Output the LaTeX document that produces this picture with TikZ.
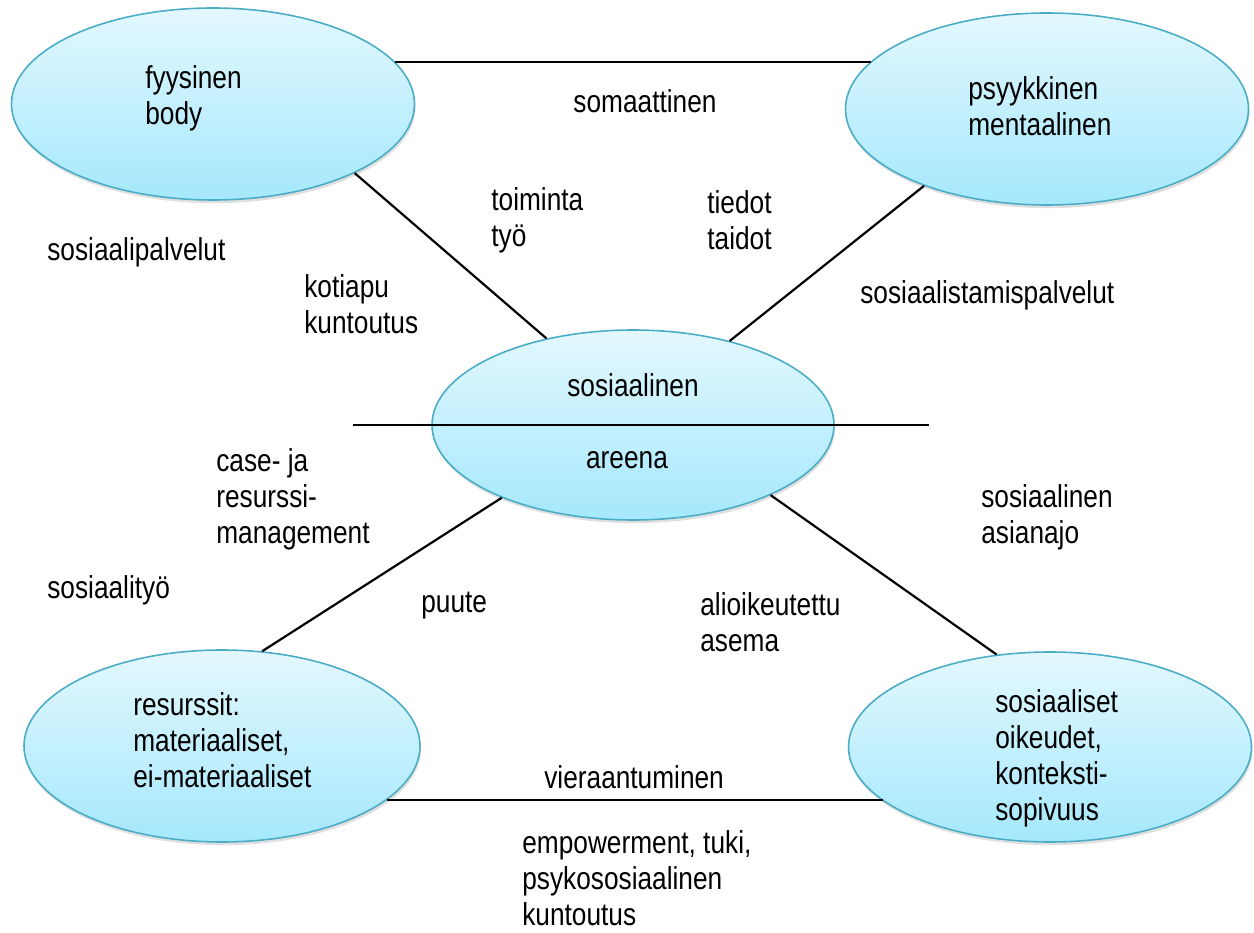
\documentclass[tikz,border=0pt]{standalone}
\usepackage{fontspec}
\setmainfont{Liberation Sans}[FakeStretch=0.83]
\usetikzlibrary{shapes.geometric,shadows}
\definecolor{ovaltop}{HTML}{E3F8FE}
\definecolor{ovalbot}{HTML}{A5E8FC}
\definecolor{ovalline}{HTML}{4BACC6}

\begin{document}
\begin{tikzpicture}[
  oval/.style={ellipse, draw=ovalline, line width=0.9pt, top color=ovaltop, bottom color=ovalbot,
    inner sep=0pt, minimum width=8.06cm, minimum height=3.84cm,
    drop shadow={opacity=0.25, shadow xshift=0.6pt, shadow yshift=-1.8pt}},
  lbl/.style={anchor=west, align=left, inner sep=0pt, font=\fontsize{18}{20.5}\selectfont},
  mid/.style={lbl, anchor=center},
  yhteys/.style={line width=1.25pt}]
\useasboundingbox (0,0) rectangle (25.08,18.64);

% the five ovals
\node[oval] (fyysinen) at (4.26,16.56) {};
\node[oval] (psyykkinen) at (20.94,16.46) {};
\node[oval, minimum width=8.04cm, minimum height=3.8cm] (sosiaalinen) at (12.66,10.14) {};
\node[oval, minimum width=7.92cm] (resurssit) at (4.44,3.72) {};
\node[oval, minimum height=3.8cm] (oikeudet) at (21.0,3.70) {};

% connectors
\draw[yhteys] (fyysinen.13.6) -- (psyykkinen.165.6 |- fyysinen.13.6);
\draw[yhteys] (fyysinen.-26.1) -- (sosiaalinen.135.6);
\draw[yhteys] (psyykkinen.-148.7) -- (sosiaalinen.41.6);
\draw[yhteys] ([xshift=-1.56cm]sosiaalinen.west) -- ([xshift=1.88cm]sosiaalinen.east);
\draw[yhteys] (sosiaalinen.-151.5) -- (resurssit.67.6);
\draw[yhteys] (sosiaalinen.-27.9) -- (oikeudet.120.1);
\draw[yhteys] (resurssit.-18.3) -- (oikeudet.-162.9 |- resurssit.-18.3);

% texts in the ovals
\node[lbl] (tFyys) at (2.9,16.68) {fyysinen\\body};
\node[lbl] (tPsyyk) at (19.36,16.52) {psyykkinen\\mentaalinen};
\node[mid] (tSos) at (12.66,10.94) {sosiaalinen};
\node[mid] (tAreena) at (12.54,9.44) {areena};
\node[lbl] (tRes) at (2.66,3.84) {resurssit:\\materiaaliset,\\ei-materiaaliset};
\node[lbl] (tOik) at (19.9,3.48) {sosiaaliset\\oikeudet,\\konteksti-\\sopivuus};

% free texts
\node[mid] (somaat) at (12.9,16.62) {somaattinen};
\node[lbl] (toiminta) at (9.82,14.24) {toiminta\\työ};
\node[lbl] (tiedot) at (14.14,14.24) {tiedot\\taidot};
\node[lbl] (sospalv) at (0.94,13.6) {sosiaalipalvelut};
\node[lbl] (kotiapu) at (6.08,12.56) {kotiapu\\kuntoutus};
\node[lbl] (sostam) at (17.2,12.74) {sosiaalistamispalvelut};
\node[lbl] (casemgmt) at (4.32,8.66) {case- ja\\resurssi-\\management};
\node[lbl] (asianajo) at (19.62,8.3) {sosiaalinen\\asianajo};
\node[lbl] (sostyo) at (0.94,6.84) {sosiaalityö};
\node[lbl] (puute) at (8.42,6.52) {puute};
\node[lbl] (alioik) at (14.0,6.2) {alioikeutettu\\asema};
\node[lbl] (vieraant) at (10.88,3.1) {vieraantuminen};
\node[lbl] (empow) at (10.44,1.08) {empowerment, tuki,\\psykososiaalinen\\kuntoutus};

\end{tikzpicture}
\end{document}
